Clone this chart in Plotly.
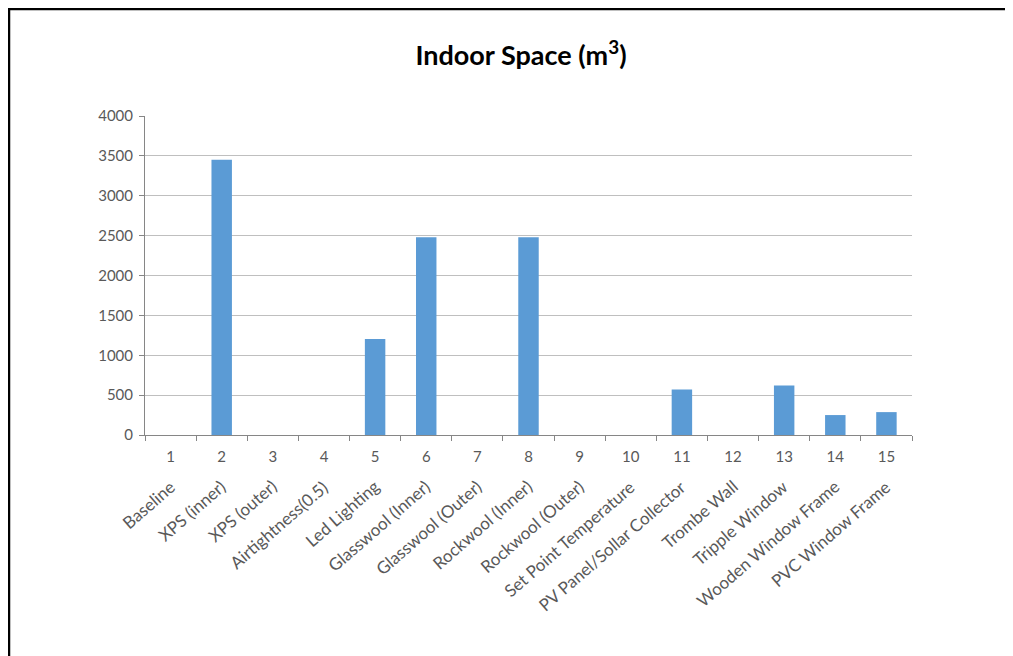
import plotly.graph_objects as go

categories = [str(i) for i in range(1, 16)]
names = ["Baseline", "XPS (inner)", "XPS (outer)", "Airtightness(0.5)", "Led Lighting",
         "Glasswool (Inner)", "Glasswool (Outer)", "Rockwool (Inner)", "Rockwool (Outer)",
         "Set Point Temperature", "PV Panel/Sollar Collector", "Trombe Wall",
         "Tripple Window", "Wooden Window Frame", "PVC Window Frame"]
values = [0, 3450, 0, 0, 1205, 2480, 0, 2480, 0, 0, 570, 0, 620, 250, 287]
y_ticks = [0, 500, 1000, 1500, 2000, 2500, 3000, 3500, 4000]

OFF = 8  # page body margin
W, H = 1013 - OFF, 656 - OFF
L, R, T, B = 145 - OFF, 912 - OFF, 116 - OFF, 435 - OFF

def px(x):
    return (x - OFF - L) / (R - L)

def py(y):
    return (B - (y - OFF)) / (B - T)

FONT = "Lato"
gray = "#595959"

fig = go.Figure()
fig.add_trace(go.Bar(x=categories, y=values, marker=dict(color="#5B9BD5", line=dict(width=0)),
                     hoverinfo="skip"))

for i, n in enumerate(names):
    fig.add_annotation(x=i, xref="x", y=py(473), yref="paper", text=n, textangle=-41,
                       xanchor="right", yanchor="top", showarrow=False, xshift=11,
                       font=dict(family=FONT, size=17, color=gray))

fig.add_shape(type="rect", xref="paper", yref="paper",
              x0=px(9), x1=px(1030), y0=py(9), y1=py(680),
              line=dict(color="black", width=2.5), fillcolor="rgba(0,0,0,0)", layer="below")

fig.update_layout(
    width=W, height=H,
    margin=dict(l=L, r=W - R, t=T, b=H - B, pad=0),
    paper_bgcolor="white", plot_bgcolor="white",
    showlegend=False, bargap=0.6,
    title=dict(text="<b>Indoor Space (m<sup>3</sup>)</b>", x=(521 - OFF) / W, xref="container",
               xanchor="center", y=1 - (56 - OFF) / H, yref="container", yanchor="middle",
               font=dict(family=FONT, size=27, color="black")),
    xaxis=dict(type="category", range=[-0.5, 14.5], autorange=False, showgrid=False,
               showline=True, linecolor="#868686", linewidth=1,
               ticks="outside", tickson="boundaries", ticklen=5, tickcolor="#868686",
               tickfont=dict(family=FONT, size=15, color=gray), tickangle=0,
               ticklabelstandoff=8),
    yaxis=dict(range=[0, 4000], tickvals=y_ticks, showgrid=True, gridcolor="#BFBFBF", gridwidth=1,
               showline=True, linecolor="#868686", linewidth=1, ticks="outside", ticklen=5,
               tickcolor="#868686", zeroline=False,
               tickfont=dict(family=FONT, size=15, color=gray), ticklabelstandoff=3),
)

fig.write_html("out.html")
